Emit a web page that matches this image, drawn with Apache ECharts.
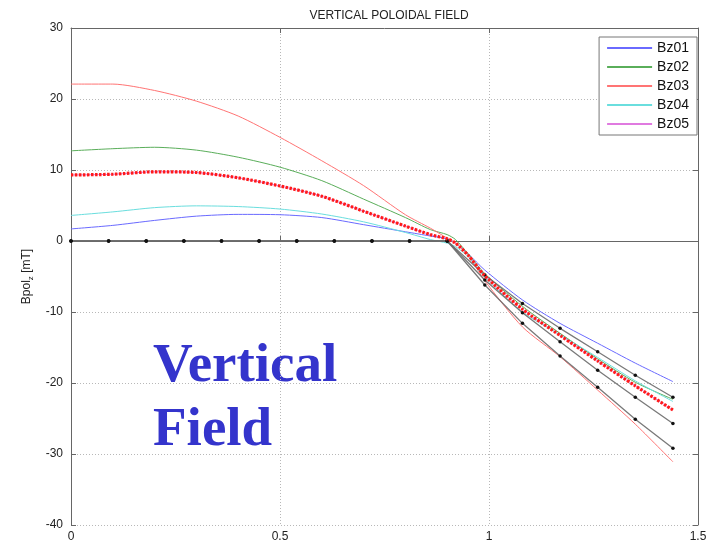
<!DOCTYPE html>
<html>
<head>
<meta charset="utf-8">
<script src="https://cdn.jsdelivr.net/npm/echarts@6/dist/echarts.min.js"></script>
<style>
html,body{margin:0;padding:0;background:#fff;}
#chart{width:717px;height:548px;}
</style>
</head>
<body>
<div id="chart"></div>
<script>
// ---- data ----
const titleText = 'VERTICAL POLOIDAL FIELD';
const seriesNames = ['Bz01', 'Bz02', 'Bz03', 'Bz04', 'Bz05'];
const xTicks = [0, 0.5, 1, 1.5];
const yTicks = [-40, -30, -20, -10, 0, 10, 20, 30];

// x positions of the coloured curves
const xCurve = [0, 0.1, 0.2, 0.3, 0.4, 0.5, 0.6, 0.7, 0.8, 0.86, 0.9, 0.92, 0.95, 0.99, 1.08, 1.17, 1.26, 1.35, 1.44];
const bz01 = [1.7, 2.2, 2.9, 3.5, 3.75, 3.7, 3.3, 2.3, 1.3, 0.7, 0.3, -0.3, -1.8, -4.1, -8.3, -11.6, -14.4, -17.2, -19.8];
const bz02 = [12.7, 13.0, 13.2, 12.8, 11.8, 10.4, 8.5, 5.9, 3.3, 1.6, 0.9, 0.2, -1.8, -4.6, -9.2, -13.0, -16.6, -19.9, -22.3];
const bz03 = [22.1, 22.1, 21.2, 19.7, 17.6, 14.6, 11.3, 7.8, 3.7, 1.8, 0.4, -0.3, -2.0, -5.6, -12.1, -16.3, -21.0, -25.8, -31.1];
const bz04 = [3.6, 4.1, 4.7, 4.95, 4.85, 4.5, 3.8, 2.7, 1.2, 0.2, -0.3, -0.8, -2.2, -5.1, -10.0, -13.2, -16.4, -19.7, -22.6];
const bz05 = [9.3, 9.4, 9.75, 9.65, 8.9, 7.75, 6.3, 4.2, 2.1, 0.9, 0.3, -0.3, -2.0, -4.9, -9.6, -13.3, -16.9, -20.4, -23.8];
const bzFit = [9.3, 9.4, 9.75, 9.65, 8.9, 7.75, 6.3, 4.2, 2.1, 0.9, 0.3, -0.3, -2.0, -4.9, -9.6, -13.3, -16.9, -20.4, -23.8];

// black measured lines (dots)
const xProbe = [0, 0.09, 0.18, 0.27, 0.36, 0.45, 0.54, 0.63, 0.72, 0.81, 0.9, 0.99, 1.08, 1.17, 1.26, 1.35, 1.44];
const probeA = [0, 0, 0, 0, 0, 0, 0, 0, 0, 0, 0, -4.8, -8.8, -12.3, -15.6, -18.9, -22.0];
const probeB = [0, 0, 0, 0, 0, 0, 0, 0, 0, 0, 0, -5.5, -10.1, -14.2, -18.2, -22.0, -25.7];
const probeC = [0, 0, 0, 0, 0, 0, 0, 0, 0, 0, 0, -6.2, -11.6, -16.2, -20.6, -25.1, -29.2];

const seriesColors = ['#6a6aff', '#5aae5a', '#ff7474', '#6adede', '#e07ae0'];
const overlayText = ['Vertical', 'Field'];

function pairs(xs, ys) { return xs.map((x, i) => [x, ys[i]]); }

const chart = echarts.init(document.getElementById('chart'), null, { renderer: 'canvas' });
const font = 'Liberation Sans, Arial, sans-serif';
const gridLine = { show: true, lineStyle: { color: '#b8b8b8', type: [1, 2], width: 1 } };

const colored = [bz01, bz02, bz03, bz04, bz05].map((d, i) => ({
  name: seriesNames[i], type: 'line', data: pairs(xCurve, d),
  showSymbol: false, smooth: 0.25, color: seriesColors[i],
  lineStyle: { width: 1, color: seriesColors[i] }, z: 2 + (i === 4 ? 0 : 1)
}));

const probes = [probeA, probeB, probeC].map((d, i) => ({
  name: 'probe' + i, type: 'line', data: pairs(xProbe, d),
  symbol: 'circle', symbolSize: 3.5, showSymbol: true,
  itemStyle: { color: '#111' },
  lineStyle: { width: 1.3, color: '#6a6a6a', opacity: 0.9 }, z: 5
}));

const fit = {
  name: 'fit', type: 'line', data: pairs(xCurve, bzFit), showSymbol: false, smooth: 0.25,
  lineStyle: { width: 3.2, color: '#ff1a1a', type: [2.5, 1.5] }, z: 6
};

chart.setOption({
  animation: false,
  backgroundColor: '#fff',
  title: {
    text: titleText, left: 384, top: 5, textAlign: 'center',
    textStyle: { fontFamily: font, fontSize: 12, fontWeight: 'normal', color: '#222' }
  },
  grid: { left: 71, right: 19, top: 28, bottom: 23, containLabel: false },
  legend: {
    data: seriesNames, orient: 'vertical', right: 20, top: 37,
    backgroundColor: '#fff', borderColor: '#777', borderWidth: 1,
    padding: [3, 8, 3, 8], itemGap: 3, itemWidth: 45, itemHeight: 2, icon: 'rect',
    textStyle: { fontFamily: font, fontSize: 14, color: '#111', lineHeight: 16 }
  },
  xAxis: [{
    type: 'value', min: xTicks[0], max: xTicks[xTicks.length - 1], interval: 0.5,
    axisLine: { show: true, lineStyle: { color: '#666' } },
    axisTick: { show: true, inside: true, length: 5, lineStyle: { color: '#666' } },
    axisLabel: { fontFamily: font, fontSize: 12, color: '#222', margin: 6 },
    splitLine: gridLine
  }, {
    type: 'value', position: 'top', min: 0, max: 1.5, interval: 0.5,
    axisLine: { show: true, onZero: false, lineStyle: { color: '#666' } },
    axisTick: { show: true, inside: true, length: 5, lineStyle: { color: '#666' } },
    axisLabel: { show: false }, splitLine: { show: false }
  }],
  yAxis: [{
    type: 'value', min: yTicks[0], max: yTicks[yTicks.length - 1], interval: 10,
    name: '{a|Bpol}{s|z}{a| [mT]}', nameLocation: 'middle', nameGap: 33, nameRotate: 90,
    nameTextStyle: { rich: { a: { fontFamily: font, fontSize: 12, color: '#222' }, s: { fontFamily: font, fontSize: 8, color: '#222', verticalAlign: 'bottom', padding: [8, 0, 0, 0] } } },
    axisLine: { show: true, onZero: false, lineStyle: { color: '#666' } },
    axisTick: { show: true, inside: true, length: 5, lineStyle: { color: '#666' } },
    axisLabel: { fontFamily: font, fontSize: 12, color: '#222', margin: 8 },
    splitLine: gridLine
  }, {
    type: 'value', position: 'right', min: -40, max: 30, interval: 10,
    axisLine: { show: true, onZero: false, lineStyle: { color: '#666' } },
    axisTick: { show: true, inside: true, length: 5, lineStyle: { color: '#666' } },
    axisLabel: { show: false }, splitLine: { show: false }
  }],
  graphic: [
    { type: 'text', left: 153, top: 339, style: { text: overlayText[0], font: 'bold 55px "Liberation Serif", "Times New Roman", serif', fill: '#3434cc' } },
    { type: 'text', left: 153, top: 403, style: { text: overlayText[1], font: 'bold 55px "Liberation Serif", "Times New Roman", serif', fill: '#3434cc' } }
  ],
  series: [...colored, ...probes, fit]
});
</script>
</body>
</html>
